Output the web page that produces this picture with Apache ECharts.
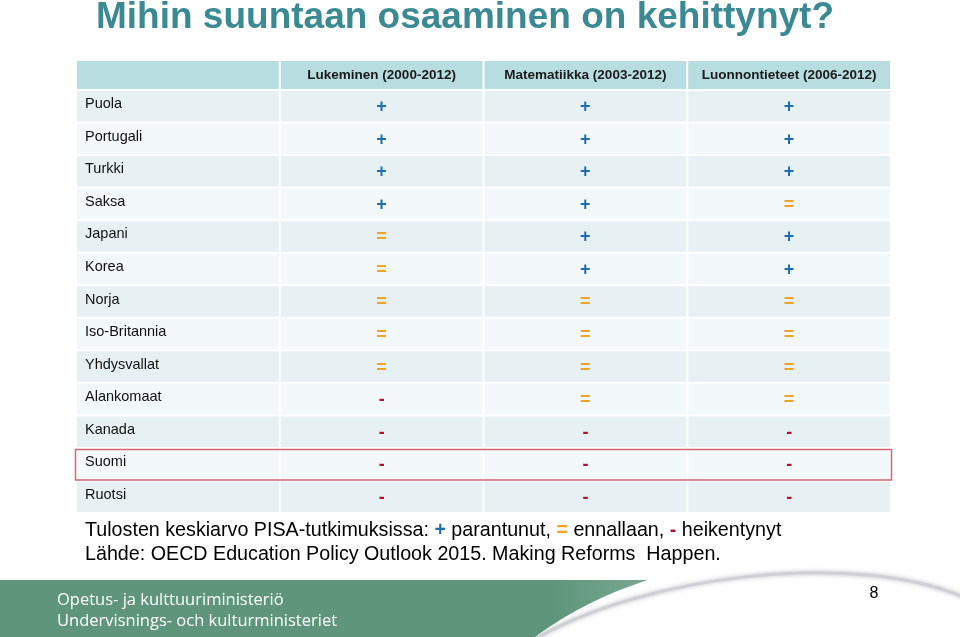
<!DOCTYPE html>
<html>
<head>
<meta charset="utf-8">
<script src="https://cdn.jsdelivr.net/npm/echarts@6/dist/echarts.min.js"></script>
<style>html,body{margin:0;padding:0;background:#fff}#c{width:960px;height:637px}</style>
</head>
<body>
<div id="c"></div>
<script>
const titleText = 'Mihin suuntaan osaaminen on kehittynyt?';
const headers = ['', 'Lukeminen (2000-2012)', 'Matematiikka (2003-2012)', 'Luonnontieteet (2006-2012)'];
const countries = ['Puola','Portugali','Turkki','Saksa','Japani','Korea','Norja','Iso-Britannia','Yhdysvallat','Alankomaat','Kanada','Suomi','Ruotsi'];
const reading = ['+','+','+','+','=','=','=','=','=','-','-','-','-'];
const math    = ['+','+','+','+','+','+','=','=','=','=','-','-','-'];
const science = ['+','+','+','=','+','+','=','=','=','=','-','-','-'];
const highlighted = ['Suomi'];
const legendLine = 'Tulosten keskiarvo PISA-tutkimuksissa: {p|+} parantunut, {e|=} ennallaan, {m|-} heikentynyt';
const sourceLine = 'Lähde: OECD Education Policy Outlook 2015. Making Reforms  Happen.';
const footer1 = 'Opetus- ja kulttuuriministeriö';
const footer2 = 'Undervisnings- och kulturministeriet';
const pageNo = '8';

const symColor = {'+':'#1f6db3','=':'#f0a224','-':'#b3122f'};
const FONT = 'Arial, "Liberation Sans", sans-serif';
const FOOTFONT = '16.5px "Liberation Sans Narrow", "Open Sans", sans-serif';
const LSIZE = 19.7;

const colKeys = ['c0','c1','c2','c3'];
const cols = [countries, reading, math, science];
const cells = [];
countries.forEach((c, i) => { cols.forEach((arr, j) => cells.push({value:[j, i], text: arr[i]})); });
const headerCells = headers.map((h, j) => ({value:[j, 0], text: h}));

function quadPts(p0, p1, p2, n) {
  const pts = [];
  for (let k = 0; k <= n; k++) {
    const t = k / n, u = 1 - t;
    pts.push([u*u*p0[0] + 2*u*t*p1[0] + t*t*p2[0], u*u*p0[1] + 2*u*t*p1[1] + t*t*p2[1]]);
  }
  return pts;
}
const greenPts = [[0,580]].concat(quadPts([648,580],[585,600],[535,637],20)).concat([[0,637]]);

const chart = echarts.init(document.getElementById('c'), null, {renderer:'canvas'});
chart.setOption({
  animation:false,
  grid:[{left:76,right:69,top:90,height:423},{left:76,right:69,top:61,height:29}],
  xAxis:[{type:'category',data:colKeys,gridIndex:0,show:false},{type:'category',data:colKeys,gridIndex:1,show:false}],
  yAxis:[{type:'category',data:countries,inverse:true,gridIndex:0,show:false},{type:'category',data:['h'],gridIndex:1,show:false}],
  series:[
    {type:'custom',xAxisIndex:1,yAxisIndex:1,data:headerCells,
     renderItem:(params, api)=>{
       const c = api.coord([api.value(0), api.value(1)]);
       const s = api.size([1,1]);
       const t = headerCells[params.dataIndex].text;
       return {type:'group',children:[
         {type:'rect',shape:{x:c[0]-s[0]/2+1,y:c[1]-s[1]/2,width:s[0]-2,height:s[1]-1},style:{fill:'#b8dde1'}},
         {type:'text',style:{text:t,x:c[0],y:c[1],align:'center',verticalAlign:'middle',font:'bold 13.5px '+FONT,fill:'#1a1a1a'}}
       ]};
     }},
    {type:'custom',data:cells,
     renderItem:(params, api)=>{
       const j = api.value(0), i = api.value(1);
       const c = api.coord([j, i]);
       const s = api.size([1,1]);
       const t = cells[params.dataIndex].text;
       const fill = i % 2 === 0 ? '#e7f1f4' : '#f3f8fa';
       const children = [{type:'rect',shape:{x:c[0]-s[0]/2+1,y:c[1]-s[1]/2+1,width:s[0]-2,height:s[1]-2},style:{fill}}];
       if (j === 0) {
         children.push({type:'text',style:{text:t,x:c[0]-s[0]/2+9,y:c[1]-2,align:'left',verticalAlign:'middle',font:'14.5px '+FONT,fill:'#111'}});
       } else {
         children.push({type:'text',style:{text:t,x:c[0],y:c[1]+1,align:'center',verticalAlign:'middle',font:'bold 18px '+FONT,fill:symColor[t]}});
       }
       return {type:'group',children};
     }},
    {type:'custom',data:highlighted.map(h=>({value:[0, countries.indexOf(h)]})),z:5,
     renderItem:(params, api)=>{
       const i = api.value(1);
       const a = api.coord([0, i]);
       const b = api.coord([3, i]);
       const s = api.size([1,1]);
       return {type:'rect',shape:{x:a[0]-s[0]/2-0.5,y:a[1]-s[1]/2+1.5,width:b[0]-a[0]+s[0]+1,height:s[1]-2},
               style:{fill:null,stroke:'#d4646f',lineWidth:1.5}};
     }}
  ],
  graphic:[
    {type:'text',x:96,y:18,style:{text:titleText,font:'bold 37px '+FONT,fill:'#3b8a93',align:'left',verticalAlign:'middle'}},
    {type:'text',x:85,y:531,style:{text:legendLine,font:LSIZE+'px '+FONT,fill:'#000',align:'left',verticalAlign:'middle',
      rich:{p:{font:'bold '+LSIZE+'px '+FONT,fill:symColor['+']},e:{font:'bold '+LSIZE+'px '+FONT,fill:symColor['=']},m:{font:'bold '+LSIZE+'px '+FONT,fill:symColor['-']}}}},
    {type:'text',x:85,y:555,style:{text:sourceLine,font:LSIZE+'px '+FONT,fill:'#000',align:'left',verticalAlign:'middle'}},
    {type:'polygon',shape:{points:greenPts},style:{fill:{type:'linear',x:0,y:0,x2:1,y2:0,colorStops:[{offset:0,color:'#5e957b'},{offset:0.85,color:'#5e957b'},{offset:1,color:'#7aa892'}]}}},
    {type:'bezierCurve',shape:{x1:530,y1:642,cpx1:640,cpy1:575,cpx2:860,cpy2:548,x2:970,y2:600},style:{fill:null,stroke:'#cfd0d5',lineWidth:3,shadowBlur:4,shadowColor:'rgba(120,120,130,0.5)'}},
    {type:'text',x:57,y:600,style:{text:footer1,font:FOOTFONT,fill:'#fff',align:'left',verticalAlign:'middle'}},
    {type:'text',x:57,y:621,style:{text:footer2,font:FOOTFONT,fill:'#fff',align:'left',verticalAlign:'middle'}},
    {type:'text',x:874,y:594,style:{text:pageNo,font:'16px '+FONT,fill:'#000',align:'center',verticalAlign:'middle'}}
  ]
});
</script>
</body>
</html>
